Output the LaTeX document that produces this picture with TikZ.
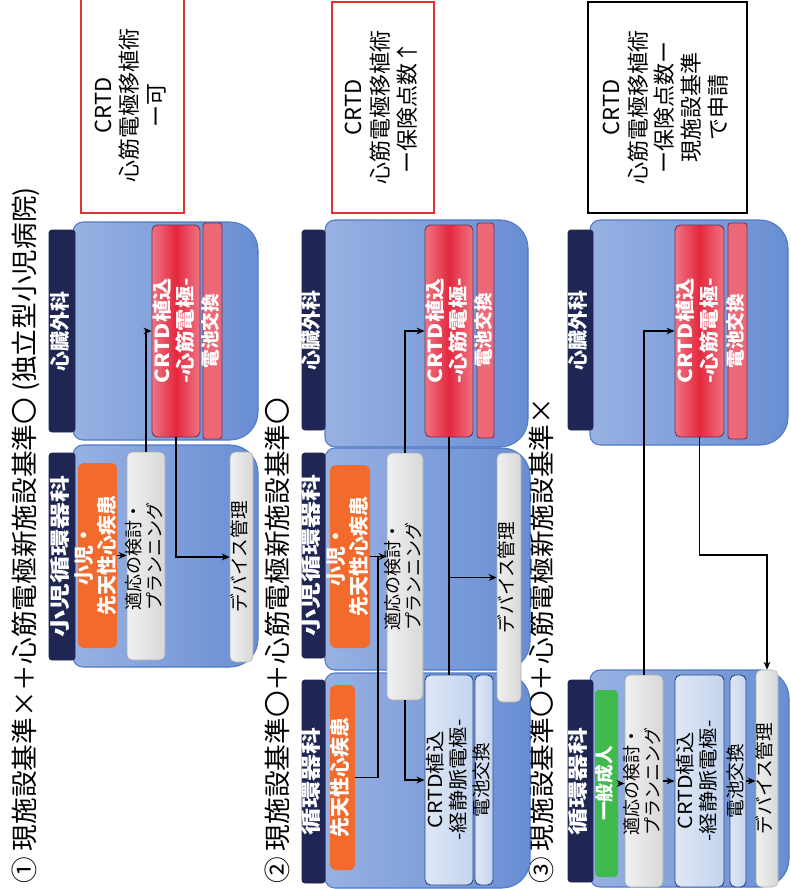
\documentclass[tikz,border=0pt]{standalone}
\usepackage{fontspec}
\setmainfont{Noto Sans CJK JP}
\usepackage{graphicx}
\usetikzlibrary{arrows.meta,calc}
\definecolor{navy}{RGB}{31,38,84}
\definecolor{blkL}{RGB}{152,177,226}
\definecolor{blkR}{RGB}{104,142,211}
\definecolor{blkB}{RGB}{80,122,200}
\definecolor{redL}{RGB}{239,116,130}
\definecolor{redM}{RGB}{228,40,62}
\definecolor{redB}{RGB}{120,50,80}
\definecolor{orng}{RGB}{242,107,45}
\definecolor{grn}{RGB}{64,186,76}
\definecolor{gryL}{RGB}{240,240,240}
\definecolor{gryR}{RGB}{216,216,216}
\definecolor{lbL}{RGB}{222,231,246}
\definecolor{lbR}{RGB}{196,212,238}
\definecolor{lbB}{RGB}{46,74,134}
\definecolor{noteR}{RGB}{226,50,50}
\newcommand\vt[4]{\rotatebox{90}{\scalebox{#3}[1]{\fontsize{#1}{#2}\selectfont\begin{tabular}{@{}c@{}}#4\end{tabular}}}}
\newcommand\bx[6]{\node[#2,inner sep=0pt,minimum width={((#5)-(#3))*0.75pt},minimum height={((#6)-(#4))*0.75pt}] (#1) at ({((#3)+(#5))/2},{((#4)+(#6))/2}) {};}
\newcommand\tx[3]{\node[inner sep=0pt,#2] (#1t) at (#1) {#3};}
\newcommand\blk[5]{%
  \node[inner sep=0pt,minimum width={((#4)-(#2))*0.75pt},minimum height={((#5)-(#3))*0.75pt}] (#1) at ({((#2)+(#4))/2},{((#3)+(#5))/2}) {};
  \path[blockfill] ({#2+10},#3) -- ({#4-28},#3) .. controls ({#4-12.6},#3) and (#4,{#3+12.6}) .. (#4,{#3+28})
   -- (#4,{#5-28}) .. controls (#4,{#5-12.6}) and ({#4-12.6},#5) .. ({#4-28},#5)
   -- ({#2+10},#5) .. controls ({#2+4.5},#5) and (#2,{#5-4.5}) .. (#2,{#5-10})
   -- (#2,{#3+10}) .. controls (#2,{#3+4.5}) and ({#2+4.5},#3) .. ({#2+10},#3) -- cycle;}
\tikzset{
  blockfill/.style={draw=blkB,line width=0.8pt,left color=blkL,right color=blkR},
  navybar/.style={fill=navy,draw=navy,rounded corners=2pt},
  redbox/.style={draw=redB,line width=0.7pt,rounded corners=4pt,left color=redL,right color=redL,middle color=redM},
  redbar/.style={draw=redB,line width=0.7pt,rounded corners=2pt,fill=redL!85!redM},
  orangebox/.style={fill=orng,rounded corners=4pt},
  greenbox/.style={fill=grn,rounded corners=3pt},
  greybox/.style={draw=gryR!80!black,line width=0.4pt,rounded corners=4pt,left color=gryL,right color=gryR},
  lbox/.style={draw=lbB,line width=0.7pt,rounded corners=4pt,left color=lbL,right color=lbR},
  notebox/.style={draw=#1,line width=1pt,fill=white},
  wt/.style={text=white,font=\bfseries},
  bt/.style={text=black},
  conn/.style={draw=black,line width=1.1pt,-{Stealth[length=6pt,width=5pt]}},
  plain/.style={draw=black,line width=1.1pt},
}
\begin{document}
\begin{tikzpicture}[x=0.75pt,y=-0.75pt]
\useasboundingbox (0,0) rectangle (790,889);
\fill[white] (0,0) rectangle (790,889);
\clip (0,0) rectangle (790,889);

% ---------- titles
\node[inner sep=0pt,anchor=south] (t1) at (28,884) {\vt{20pt}{24pt}{1}{① 現施設基準×＋心筋電極新施設基準〇 (独立型小児病院)}};
\node[inner sep=0pt,anchor=south] (t2) at (281,884) {\vt{20pt}{24pt}{1}{② 現施設基準〇＋心筋電極新施設基準〇}};
\node[inner sep=0pt,anchor=south] (t3) at (545,884) {\vt{20pt}{24pt}{1}{③ 現施設基準〇＋心筋電極新施設基準×}};

% ---------- column 1
\bx{c1note}{notebox=noteR}{81}{-2}{184}{213}
\tx{c1note}{bt}{\vt{16.5pt}{20pt}{1}{CRTD\\心筋電極移植術\\ー可}}
\blk{c1hs}{73}{222}{258}{440}
\bx{c1hsl}{navybar}{49}{230}{75}{432}
\tx{c1hsl}{wt}{\vt{15pt}{16pt}{1}{心臓外科}}
\bx{c1crtd}{redbox}{152}{225}{200}{437}
\tx{c1crtd}{wt}{\vt{14.5pt}{16.5pt}{1.15}{CRTD植込\\-心筋電極-}}
\bx{c1bat}{redbar}{203}{223}{222}{439}
\tx{c1bat}{wt}{\vt{14pt}{15pt}{1}{電池交換}}
\blk{c1pc}{73}{445}{258}{667}
\bx{c1pcl}{navybar}{49}{453}{75}{660}
\tx{c1pcl}{wt}{\vt{15pt}{16pt}{1.35}{小児循環器科}}
\bx{c1ped}{orangebox}{78}{463}{117}{648}
\tx{c1ped}{wt}{\vt{15pt}{15.5pt}{1}{小児・\\先天性心疾患}}
\bx{c1plan}{greybox}{127}{452}{165}{660}
\tx{c1plan}{bt}{\vt{13.5pt}{14.5pt}{1}{適応の検討・\\プランニング}}
\bx{c1dev}{greybox}{230}{452}{253}{662}
\tx{c1dev}{bt}{\vt{14pt}{15pt}{1}{デバイス管理}}

\draw[conn] (c1plan.north) |- (c1crtd.west);
\draw[conn] (c1crtd.south) |- (c1dev.west);
\draw[conn] (c1ped.east) -- (c1ped.east -| c1plan.west);

% ---------- column 2
\bx{c2note}{notebox=noteR}{332}{2}{434}{213}
\tx{c2note}{bt}{\vt{16.5pt}{20pt}{1}{CRTD\\心筋電極移植術\\ー保険点数↑}}
\blk{c2hs}{325}{220}{528}{447}
\bx{c2hsl}{navybar}{302}{230}{325}{430}
\tx{c2hsl}{wt}{\vt{15pt}{16pt}{1}{心臓外科}}
\bx{c2crtd}{redbox}{425}{225}{473}{437}
\tx{c2crtd}{wt}{\vt{14.5pt}{16.5pt}{1.15}{CRTD植込\\-心筋電極-}}
\bx{c2bat}{redbar}{477}{223}{494}{438}
\tx{c2bat}{wt}{\vt{14pt}{15pt}{1}{電池交換}}
\blk{c2pc}{325}{448}{530}{670}
\bx{c2pcl}{navybar}{302}{453}{325}{658}
\tx{c2pcl}{wt}{\vt{15pt}{16pt}{1.35}{小児循環器科}}
\bx{c2ped}{orangebox}{330}{465}{370}{648}
\tx{c2ped}{wt}{\vt{15pt}{15.5pt}{1}{小児・\\先天性心疾患}}
\blk{c2cv}{325}{673}{530}{888}
\bx{c2cvl}{navybar}{302}{680}{325}{883}
\tx{c2cvl}{wt}{\vt{15pt}{16pt}{1.35}{循環器科}}
\bx{c2cong}{orangebox}{330}{685}{355}{870}
\tx{c2cong}{wt}{\vt{15pt}{16pt}{1}{先天性心疾患}}
\bx{c2crtd2}{lbox}{425}{675}{473}{885}
\tx{c2crtd2}{bt}{\vt{14.5pt}{16.5pt}{1.1}{CRTD植込\\-経静脈電極-}}
\bx{c2bat2}{lbox}{475}{675}{493}{885}
\tx{c2bat2}{bt}{\vt{14pt}{15pt}{1}{電池交換}}
\bx{c2plan}{greybox}{387}{453}{423}{700}
\tx{c2plan}{bt}{\vt{13.5pt}{14.5pt}{1}{適応の検討・\\プランニング}}
\bx{c2dev}{greybox}{497}{453}{521}{702}
\tx{c2dev}{bt}{\vt{14pt}{15pt}{1}{デバイス管理}}

\coordinate (c2j) at (378,556.5);
\draw[conn] (c2plan.north) |- (c2crtd.west);
\draw[conn] (c2ped.east) -- (c2ped.east -| c2plan.west);
\draw[plain] (c2cong.east) -| (c2j);
\draw[conn] (c2plan.south) |- (c2crtd2.west);
\draw[plain] (c2crtd.south) -- (c2crtd2.north);
\draw[conn] (c2crtd.south |- c2dev.west) -- (c2dev.west);

% ---------- column 3
\bx{c3note}{notebox=black}{588}{2}{747}{213}
\tx{c3note}{bt}{\vt{16.5pt}{20pt}{1}{CRTD\\心筋電極移植術\\ー保険点数ー\\現施設基準\\で申請}}
\blk{c3hs}{590}{220}{788}{445}
\bx{c3hsl}{navybar}{568}{230}{593}{430}
\tx{c3hsl}{wt}{\vt{15pt}{16pt}{1}{心臓外科}}
\bx{c3crtd}{redbox}{675}{225}{724}{437}
\tx{c3crtd}{wt}{\vt{14.5pt}{16.5pt}{1.15}{CRTD植込\\-心筋電極-}}
\bx{c3bat}{redbar}{728}{223}{747}{439}
\tx{c3bat}{wt}{\vt{14pt}{15pt}{1}{電池交換}}
\blk{c3cv}{590}{670}{789}{887}
\bx{c3cvl}{navybar}{568}{680}{593}{882}
\tx{c3cvl}{wt}{\vt{15pt}{16pt}{1.35}{循環器科}}
\bx{c3gen}{greenbox}{595}{690}{618}{877}
\tx{c3gen}{wt}{\vt{14pt}{15pt}{1}{一般成人}}
\bx{c3plan}{greybox}{625}{675}{663}{887}
\tx{c3plan}{bt}{\vt{13.5pt}{14.5pt}{1}{適応の検討・\\プランニング}}
\bx{c3crtd2}{lbox}{675}{675}{724}{887}
\tx{c3crtd2}{bt}{\vt{14.5pt}{16.5pt}{1.1}{CRTD植込\\-経静脈電極-}}
\bx{c3bat2}{lbox}{730}{675}{746}{887}
\tx{c3bat2}{bt}{\vt{14pt}{15pt}{1}{電池交換}}
\bx{c3dev}{greybox}{756}{670}{778}{887}
\tx{c3dev}{bt}{\vt{14pt}{15pt}{1}{デバイス管理}}

\coordinate (c3y) at (0,555);
\draw[conn] (c3plan.north) |- (c3crtd.west);
\draw[conn] (c3crtd.south) |- (c3dev.north |- c3y) -- (c3dev.north);
\draw[conn] (c3gen.east) -- (c3gen.east -| c3plan.west);
\draw[conn] (c3plan.east) -- (c3plan.east -| c3crtd2.west);
\draw[conn] (c3bat2.east) -- (c3bat2.east -| c3dev.west);
\end{tikzpicture}
\end{document}
